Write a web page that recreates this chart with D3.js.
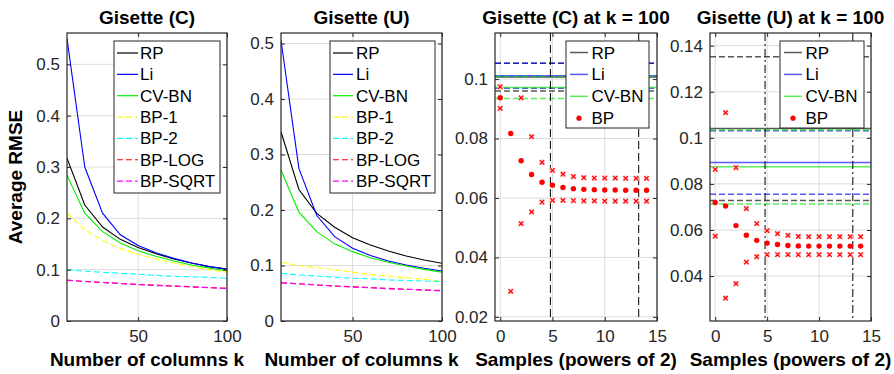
<!DOCTYPE html>
<html><head><meta charset="utf-8">
<script src="https://cdn.jsdelivr.net/npm/d3@7"></script>
<style>body{margin:0;background:#fff}svg{display:block}</style>
</head><body><svg id="chart" width="894" height="374"></svg>
<script>
// ---------- data ----------
const kValues = [10,20,30,40,50,60,70,80,90,100];
const seriesNames = ["RP","Li","CV-BN","BP-1","BP-2","BP-LOG","BP-SQRT"];
// Gisette (C)
const rpC     = [0.317,0.226,0.183,0.159,0.143,0.131,0.121,0.113,0.106,0.101];
const liC     = [0.550,0.300,0.210,0.168,0.147,0.133,0.122,0.113,0.106,0.101];
const cvbnC   = [0.284,0.210,0.174,0.152,0.137,0.126,0.117,0.109,0.103,0.098];
const bp1C    = [0.210,0.178,0.157,0.141,0.130,0.121,0.113,0.106,0.100,0.095];
const bp2C    = [0.100,0.097,0.095,0.093,0.091,0.089,0.087,0.086,0.085,0.083];
const bpLogC  = [0.080,0.077,0.075,0.073,0.071,0.070,0.068,0.067,0.065,0.064];
const bpSqrtC = [0.079,0.077,0.075,0.073,0.071,0.069,0.068,0.066,0.065,0.063];
// Gisette (U)
const rpU     = [0.341,0.237,0.194,0.169,0.150,0.137,0.126,0.117,0.110,0.104];
const liU     = [0.506,0.275,0.190,0.152,0.131,0.118,0.108,0.101,0.095,0.090];
const cvbnU   = [0.272,0.196,0.161,0.139,0.125,0.114,0.106,0.099,0.093,0.088];
const bp1U    = [0.106,0.100,0.096,0.092,0.088,0.084,0.081,0.078,0.075,0.072];
const bp2U    = [0.086,0.083,0.081,0.079,0.077,0.076,0.074,0.073,0.072,0.071];
const bpLogU  = [0.069,0.067,0.065,0.063,0.062,0.060,0.059,0.057,0.056,0.055];
const bpSqrtU = [0.069,0.067,0.065,0.063,0.061,0.060,0.058,0.057,0.056,0.054];

// at k = 100
const samplePowers = [0,1,2,3,4,5,6,7,8,9,10,11,12,13,14];
const refMethods = ["RP","Li","CV-BN"];
const refMeanC  = [0.1007,0.1011,0.0972];
const refUpperC = [0.1053,0.1053,0.1009];
const refLowerC = [0.0960,0.0969,0.0935];
const refMeanU  = [0.1040,0.0893,0.0874];
const refUpperU = [0.1352,0.1031,0.1034];
const refLowerU = [0.0728,0.0755,0.0713];
const bpMeanC  = [0.0937,0.0817,0.0725,0.0679,0.0653,0.0643,0.0635,0.0631,0.0629,0.0628,0.0627,0.0627,0.0626,0.0626,0.0626];
const bpUpperC = [0.0974,0.1348,0.0937,0.0806,0.0720,0.0693,0.0680,0.0672,0.0668,0.0667,0.0667,0.0667,0.0666,0.0666,0.0666];
const bpLowerC = [0.0901,0.0286,0.0514,0.0553,0.0586,0.0592,0.0592,0.0591,0.0590,0.0590,0.0589,0.0589,0.0589,0.0589,0.0589];
const bpMeanU  = [0.0719,0.0704,0.0619,0.0577,0.0555,0.0543,0.0537,0.0533,0.0531,0.0530,0.0530,0.0530,0.0530,0.0530,0.0530];
const bpUpperU = [0.0863,0.1109,0.0871,0.0693,0.0628,0.0597,0.0584,0.0577,0.0572,0.0571,0.0571,0.0571,0.0571,0.0571,0.0571];
const bpLowerU = [0.0573,0.0304,0.0367,0.0461,0.0484,0.0493,0.0493,0.0493,0.0493,0.0493,0.0493,0.0493,0.0493,0.0493,0.0493];
const markerPowers = [4.8,13.25];

// tick labels
const kTicks = [50,100];
const yTicksC = [0,0.1,0.2,0.3,0.4,0.5];
const yTicksU = [0,0.1,0.2,0.3,0.4,0.5];
const sTicks = [0,5,10,15];
const yTicksC100 = [0.02,0.04,0.06,0.08,0.1];
const yTicksU100 = [0.04,0.06,0.08,0.1,0.12,0.14];

// ---------- styles ----------
const FONT = "'Liberation Sans', Arial, Helvetica, sans-serif";
const AXC = "#262626";
const BOLD = 19, TICK = 17, LEG = 17;
const seriesStyle = {
  "RP":{color:"#000000",dash:null},
  "Li":{color:"#0000ff",dash:null},
  "CV-BN":{color:"#00ee00",dash:null},
  "BP-1":{color:"#ffff00",dash:"6,3"},
  "BP-2":{color:"#00ffff",dash:"6,3"},
  "BP-LOG":{color:"#ff0000",dash:"6,3"},
  "BP-SQRT":{color:"#ff00ff",dash:"6,3"}
};
const refColor = {"RP":"rgba(0,0,0,0.65)","Li":"rgba(0,0,255,0.65)","CV-BN":"rgba(0,230,0,0.65)"};

const svg = d3.select("#chart");
svg.append("rect").attr("width",894).attr("height",374).attr("fill","#fff");

function frame(g, box, x, y, xTicks, yTicks, title, xlabel, ylabel, id) {
  const defs = svg.append("defs");
  defs.append("clipPath").attr("id",id).append("rect")
    .attr("x",box.l).attr("y",box.t).attr("width",box.r-box.l).attr("height",box.b-box.t);
  const grid = g.append("g");
  grid.selectAll("line.gx").data(xTicks).join("line")
    .attr("x1",d=>x(d)).attr("x2",d=>x(d)).attr("y1",box.t).attr("y2",box.b)
    .attr("stroke","#dcdcdc").attr("stroke-width",1);
  grid.selectAll("line.gy").data(yTicks).join("line")
    .attr("x1",box.l).attr("x2",box.r).attr("y1",d=>y(d)).attr("y2",d=>y(d))
    .attr("stroke","#dcdcdc").attr("stroke-width",1);
  g.append("text").attr("x",(box.l+box.r)/2).attr("y",24).attr("text-anchor","middle")
    .attr("font-family",FONT).attr("font-weight","bold").attr("font-size",BOLD).attr("fill","#000").text(title);
  g.append("text").attr("x",(box.l+box.r)/2).attr("y",366).attr("text-anchor","middle")
    .attr("font-family",FONT).attr("font-weight","bold").attr("font-size",BOLD).attr("fill","#000").text(xlabel);
  if (ylabel) {
    g.append("text").attr("transform",`translate(22,${(box.t+box.b)/2}) rotate(-90)`).attr("text-anchor","middle")
      .attr("font-family",FONT).attr("font-weight","bold").attr("font-size",BOLD).attr("fill","#000").text(ylabel);
  }
  return grid;
}

function axesOnTop(g, box, x, y, xTicks, yTicks) {
  const axG = g.append("g");
  const xAxis = d3.axisBottom(x).tickValues(xTicks).tickSize(-4).tickPadding(9).tickFormat(d=>String(d));
  const yAxis = d3.axisLeft(y).tickValues(yTicks).tickSize(-4).tickPadding(7).tickFormat(d=>String(+d.toFixed(2)));
  const xa = axG.append("g").attr("transform",`translate(0,${box.b})`).call(xAxis);
  const ya = axG.append("g").attr("transform",`translate(${box.l},0)`).call(yAxis);
  const xt = axG.append("g").attr("transform",`translate(0,${box.t})`).call(d3.axisTop(x).tickValues(xTicks).tickSize(-4).tickFormat(""));
  const yr = axG.append("g").attr("transform",`translate(${box.r},0)`).call(d3.axisRight(y).tickValues(yTicks).tickSize(-4).tickFormat(""));
  [xa,ya,xt,yr].forEach(a=>{
    a.select(".domain").remove();
    a.selectAll(".tick line").attr("stroke",AXC);
    a.selectAll("text").attr("font-family",FONT).attr("font-size",TICK).attr("fill",AXC);
  });
  axG.append("rect").attr("x",box.l).attr("y",box.t).attr("width",box.r-box.l).attr("height",box.b-box.t)
    .attr("fill","none").attr("stroke",AXC).attr("stroke-width",1.2);
}

function legend(g, lg, items) {
  g.append("rect").attr("x",lg.x0).attr("y",lg.y0).attr("width",lg.x1-lg.x0).attr("height",lg.y1-lg.y0)
    .attr("fill","#fff").attr("stroke",AXC).attr("stroke-width",1);
  items.forEach((it,i)=>{
    const yy = lg.row0 + i*lg.step;
    if (it.type==="dot") {
      g.append("circle").attr("cx",lg.x0+(lg.s0+lg.s1)/2).attr("cy",yy).attr("r",2.6).attr("fill","#ff0000");
    } else {
      g.append("line").attr("x1",lg.x0+lg.s0).attr("x2",lg.x0+lg.s1).attr("y1",yy).attr("y2",yy)
        .attr("stroke",it.color).attr("stroke-width",it.w||1.2).attr("stroke-dasharray",it.dash);
    }
    g.append("text").attr("x",lg.x0+lg.tx).attr("y",yy+6).attr("font-family",FONT).attr("font-size",LEG)
      .attr("fill","#000").text(it.name);
  });
}

function curvePanel(cfg) {
  const {box} = cfg;
  const g = svg.append("g");
  const x = d3.scaleLinear().domain([10,100]).range([box.l,box.r]);
  const y = d3.scaleLinear().domain(cfg.yDomain).range([box.b,box.t]);
  frame(g, box, x, y, kTicks, cfg.yTicks, cfg.title, "Number of columns k", cfg.ylabel, cfg.id);
  const line = d3.line().x((d,i)=>x(kValues[i])).y(d=>y(d));
  const plot = g.append("g").attr("clip-path",`url(#${cfg.id})`);
  cfg.series.forEach((vals,j)=>{
    const st = seriesStyle[seriesNames[j]];
    plot.append("path").attr("d",line(vals)).attr("fill","none").attr("stroke",st.color)
      .attr("stroke-width",1.1).attr("stroke-dasharray",st.dash);
  });
  axesOnTop(g, box, x, y, kTicks, cfg.yTicks);
  legend(g, cfg.legend, seriesNames.map(n=>({name:n,color:seriesStyle[n].color,dash:seriesStyle[n].dash})));
}

function samplePanel(cfg) {
  const {box} = cfg;
  const g = svg.append("g");
  const x = d3.scaleLinear().domain([-0.5,15]).range([box.l,box.r]);
  const y = d3.scaleLinear().domain(cfg.yDomain).range([box.b,box.t]);
  frame(g, box, x, y, sTicks, cfg.yTicks, cfg.title, "Samples (powers of 2)", null, cfg.id);
  const plot = g.append("g").attr("clip-path",`url(#${cfg.id})`);
  refMethods.forEach((m,i)=>{
    [[cfg.upper[i],"6,3"],[cfg.lower[i],"6,3"],[cfg.mean[i],null]].forEach(([v,dash])=>{
      plot.append("line").attr("x1",box.l).attr("x2",box.r).attr("y1",y(v)).attr("y2",y(v))
        .attr("stroke",refColor[m]).attr("stroke-width",1.5).attr("stroke-dasharray",dash);
    });
  });
  plot.selectAll("line.vm").data(markerPowers).join("line")
    .attr("x1",d=>x(d)).attr("x2",d=>x(d)).attr("y1",box.t).attr("y2",box.b)
    .attr("stroke","#000").attr("stroke-width",1).attr("stroke-dasharray",cfg.vdash);
  const cross = (v,i)=>{
    const cx = x(samplePowers[i]), cy = y(v), s = 2.2;
    plot.append("rect").attr("x",cx-s-0.5).attr("y",cy-s-0.5).attr("width",2*s+1).attr("height",2*s+1).attr("fill","#ffd0d0");
    plot.append("path").attr("d",`M${cx-s},${cy-s}L${cx+s},${cy+s}M${cx-s},${cy+s}L${cx+s},${cy-s}`)
      .attr("stroke","#ff0000").attr("stroke-width",1.2);
  };
  cfg.bpUpper.forEach(cross);
  cfg.bpLower.forEach(cross);
  cfg.bpMean.forEach((v,i)=>{
    plot.append("circle").attr("cx",x(samplePowers[i])).attr("cy",y(v)).attr("r",2.7).attr("fill","#ff0000");
  });
  axesOnTop(g, box, x, y, sTicks, cfg.yTicks);
  legend(g, cfg.legend, [
    {name:"RP",color:refColor["RP"],w:1.5},
    {name:"Li",color:refColor["Li"],w:1.5},
    {name:"CV-BN",color:refColor["CV-BN"],w:1.5},
    {name:"BP",type:"dot"}
  ]);
}

curvePanel({id:"c1",box:{l:67,r:227,t:33,b:321},yDomain:[0,0.561],yTicks:yTicksC,
  title:"Gisette (C)",ylabel:"Average RMSE",
  series:[rpC,liC,cvbnC,bp1C,bp2C,bpLogC,bpSqrtC],
  legend:{x0:114,x1:220,y0:41,y1:193,row0:53,step:21.35,s0:3,s1:24,tx:26}});
curvePanel({id:"c2",box:{l:281,r:442,t:33,b:321},yDomain:[0,0.519],yTicks:yTicksU,
  title:"Gisette (U)",ylabel:null,
  series:[rpU,liU,cvbnU,bp1U,bp2U,bpLogU,bpSqrtU],
  legend:{x0:330,x1:435,y0:41,y1:193,row0:53,step:21.35,s0:3,s1:23,tx:26}});
samplePanel({id:"c3",box:{l:495,r:657,t:33,b:321},yDomain:[0.0186,0.1155],yTicks:yTicksC100,
  title:"Gisette (C) at k = 100",mean:refMeanC,upper:refUpperC,lower:refLowerC,
  bpMean:bpMeanC,bpUpper:bpUpperC,bpLower:bpLowerC,vdash:"8,4",
  legend:{x0:566,x1:649,y0:41,y1:128,row0:52.5,step:21.9,s0:4,s1:22,tx:25.5}});
samplePanel({id:"c4",box:{l:710,r:871,t:33,b:321},yDomain:[0.0205,0.1455],yTicks:yTicksU100,
  title:"Gisette (U) at k = 100",mean:refMeanU,upper:refUpperU,lower:refLowerU,
  bpMean:bpMeanU,bpUpper:bpUpperU,bpLower:bpLowerU,vdash:"8,3,2,3",
  legend:{x0:780,x1:864,y0:41,y1:128,row0:52.5,step:21.9,s0:4,s1:22,tx:25.5}});
</script>
</body></html>
